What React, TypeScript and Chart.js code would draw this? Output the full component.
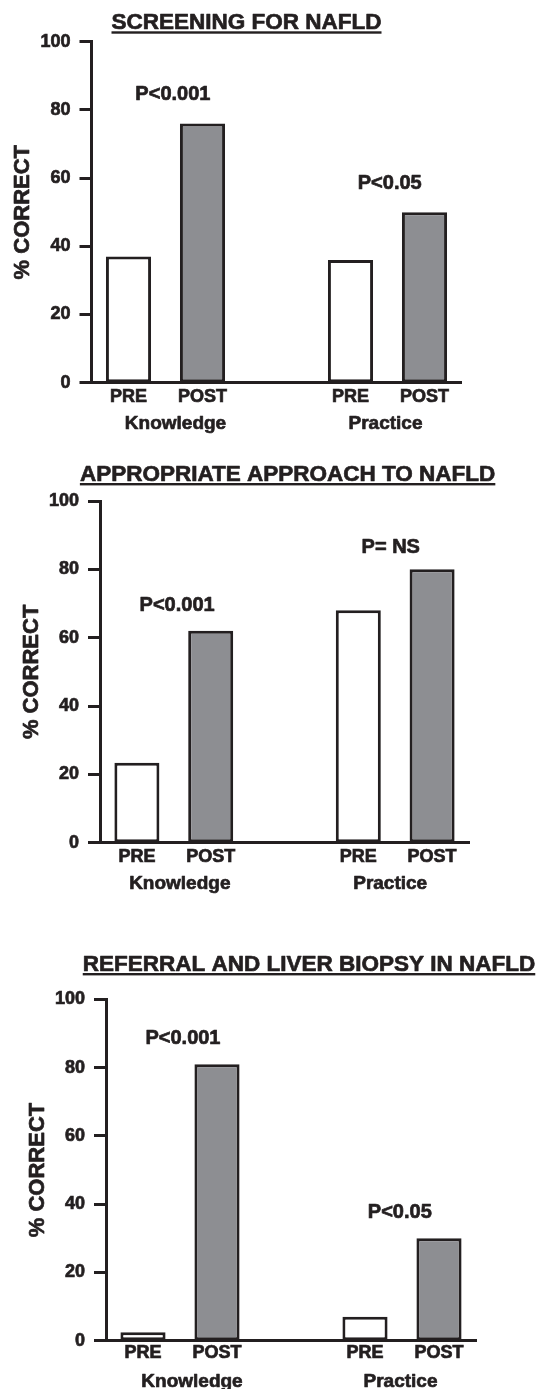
import React, { useEffect, useRef } from 'react';
import { Chart, registerables } from 'chart.js';

Chart.register(...registerables);

const INK = '#231f20';
const GREY = '#8d8e92';
const WHITE = '#ffffff';
const FONT = '"Liberation Sans", Arial, Helvetica, sans-serif';
const STROKE = 0.7;

// ---- data ----
const stageLabels = ['PRE', 'POST'];
const groupLabels = ['Knowledge', 'Practice'];
const yTickValues = [0, 20, 40, 60, 80, 100];
const yAxisTitle = '% CORRECT';

const titles = [
  'SCREENING FOR NAFLD',
  'APPROPRIATE APPROACH TO NAFLD',
  'REFERRAL AND LIVER BIOPSY IN NAFLD',
];

const screeningKnowledge = [37, 76];
const screeningPractice = [36, 50];
const screeningPText = ['P<0.001', 'P<0.05'];
const screeningPLevel = [85, 59];

const approachKnowledge = [23.4, 62];
const approachPractice = [68, 80];
const approachPText = ['P<0.001', 'P= NS'];
const approachPLevel = [70, 87];

const referralKnowledge = [2.5, 81];
const referralPractice = [7, 30];
const referralPText = ['P<0.001', 'P<0.05'];
const referralPLevel = [89, 38];

// ---- layout (canvas-local pixels) ----
type Panel = {
  title: string;
  knowledge: number[];
  practice: number[];
  pText: string[];
  pLevel: number[];
  top: number;
  height: number;
  left: number;
  right: number;
  areaTop: number;
  areaBottom: number;
  titleX: number;
  titleBase: number;
  pPos: number[];
  groupShift: number[];
  xPad: number;
};

const panels: Panel[] = [
  {
    title: titles[0], knowledge: screeningKnowledge, practice: screeningPractice,
    pText: screeningPText, pLevel: screeningPLevel,
    top: 0, height: 450, left: 91.5, right: 461.5, areaTop: 41.7, areaBottom: 382.7,
    titleX: 246.5, titleBase: 28.8, pPos: [0.6, 3.53], groupShift: [10, -2], xPad: 3.2,
  },
  {
    title: titles[1], knowledge: approachKnowledge, practice: approachPractice,
    pText: approachPText, pLevel: approachPLevel,
    top: 450, height: 460, left: 100, right: 469, areaTop: 51, areaBottom: 392.7,
    titleX: 287.6, titleBase: 30.5, pPos: [0.545, 3.44], groupShift: [6, -5], xPad: 4,
  },
  {
    title: titles[2], knowledge: referralKnowledge, practice: referralPractice,
    pText: referralPText, pLevel: referralPLevel,
    top: 935, height: 454, left: 106, right: 476, areaTop: 64.3, areaBottom: 405.7,
    titleX: 309, titleBase: 35.5, pPos: [0.54, 3.47], groupShift: [12, -1.5], xPad: 2,
  },
];

function boldText(ctx: CanvasRenderingContext2D, text: string, x: number, y: number) {
  ctx.lineWidth = STROKE;
  ctx.strokeStyle = INK;
  ctx.lineJoin = 'round';
  ctx.strokeText(text, x, y);
  ctx.fillText(text, x, y);
}

function capText(ctx: CanvasRenderingContext2D, text: string, x: number, capCenterY: number, size: number) {
  ctx.font = `bold ${size}px ${FONT}`;
  ctx.textAlign = 'center';
  ctx.textBaseline = 'alphabetic';
  boldText(ctx, text, x, capCenterY + 0.358 * size);
}

function makeAnnotations(p: Panel) {
  return {
    id: 'annotations',
    afterDraw(chart: any) {
      const { ctx, chartArea, scales } = chart;
      const xs = scales.x;
      const ys = scales.y;
      ctx.save();
      ctx.fillStyle = INK;

      // title with underline
      const tSize = 22.5;
      ctx.font = `bold ${tSize}px ${FONT}`;
      ctx.textAlign = 'center';
      ctx.textBaseline = 'alphabetic';
      boldText(ctx, p.title, p.titleX, p.titleBase);
      const w = ctx.measureText(p.title).width;
      ctx.fillRect(p.titleX - w / 2, p.titleBase + 2.5, w, 2.4);

      // y axis title
      const ySize = 22;
      ctx.save();
      ctx.translate(chartArea.left - 70, (chartArea.top + chartArea.bottom) / 2);
      ctx.rotate(-Math.PI / 2);
      ctx.font = `bold ${ySize}px ${FONT}`;
      ctx.textAlign = 'center';
      ctx.textBaseline = 'alphabetic';
      boldText(ctx, yAxisTitle, 0, 0.358 * ySize);
      ctx.restore();

      // P-value labels
      p.pText.forEach((t, i) => {
        capText(ctx, t, xs.getPixelForValue(p.pPos[i]), ys.getPixelForValue(p.pLevel[i]), 20);
      });

      // group labels
      const n = stageLabels.length;
      groupLabels.forEach((g, gi) => {
        const start = gi * (n + 1);
        const cx = (xs.getPixelForValue(start) + xs.getPixelForValue(start + n - 1)) / 2 + p.groupShift[gi];
        capText(ctx, g, cx, chartArea.bottom + 39, 19);
      });
      ctx.restore();
    },
  };
}

function PanelChart({ p }: { p: Panel }) {
  const ref = useRef<HTMLCanvasElement | null>(null);
  useEffect(() => {
    if (!ref.current) return;
    const labels = [...stageLabels, '', ...stageLabels];
    const values = [...p.knowledge, null, ...p.practice];
    const fills = [WHITE, GREY, WHITE, WHITE, GREY];
    const chart = new Chart(ref.current, {
      type: 'bar',
      data: {
        labels,
        datasets: [
          {
            data: values as any,
            backgroundColor: fills,
            borderColor: INK,
            borderWidth: 3,
            borderSkipped: false,
            barPercentage: 0.61,
            categoryPercentage: 1,
          },
        ],
      },
      options: {
        responsive: false,
        animation: false,
        events: [],
        layout: { padding: { left: 0, right: 540 - p.right, top: p.areaTop, bottom: 0 } },
        plugins: {
          legend: { display: false },
          tooltip: { enabled: false },
          title: { display: false },
        },
        scales: {
          x: {
            type: 'category',
            offset: true,
            grid: { display: false, drawTicks: false },
            border: { display: true, color: INK, width: 3 },
            ticks: {
              color: INK,
              font: { family: FONT, size: 18, weight: 'bold' },
              padding: p.xPad,
              maxRotation: 0,
              autoSkip: false,
              textStrokeColor: INK,
              textStrokeWidth: STROKE,
            },
            afterFit: (s: any) => {
              s.height = p.height - p.areaBottom;
            },
          },
          y: {
            min: 0,
            max: 100,
            grid: {
              display: true,
              drawOnChartArea: false,
              drawTicks: true,
              tickLength: 12,
              tickWidth: 3,
              tickColor: INK,
            },
            border: { display: true, color: INK, width: 3 },
            ticks: {
              color: INK,
              font: { family: FONT, size: 18, weight: 'bold' },
              padding: 9,
              textStrokeColor: INK,
              textStrokeWidth: STROKE,
            },
            afterBuildTicks: (s: any) => {
              s.ticks = yTickValues.map((v) => ({ value: v }));
            },
            afterFit: (s: any) => {
              s.width = p.left;
            },
          },
        },
      } as any,
      plugins: [makeAnnotations(p)],
    });
    return () => chart.destroy();
  }, [p]);
  return (
    <canvas
      ref={ref}
      width={540}
      height={p.height}
      style={{ position: 'absolute', left: 0, top: p.top, width: 540, height: p.height, display: 'block' }}
    />
  );
}

export default function App() {
  return (
    <div
      style={{
        position: 'absolute',
        left: 0,
        top: 0,
        width: 540,
        height: 1389,
        background: '#ffffff',
        overflow: 'hidden',
      }}
    >
      {panels.map((p, i) => (
        <PanelChart key={i} p={p} />
      ))}
    </div>
  );
}
